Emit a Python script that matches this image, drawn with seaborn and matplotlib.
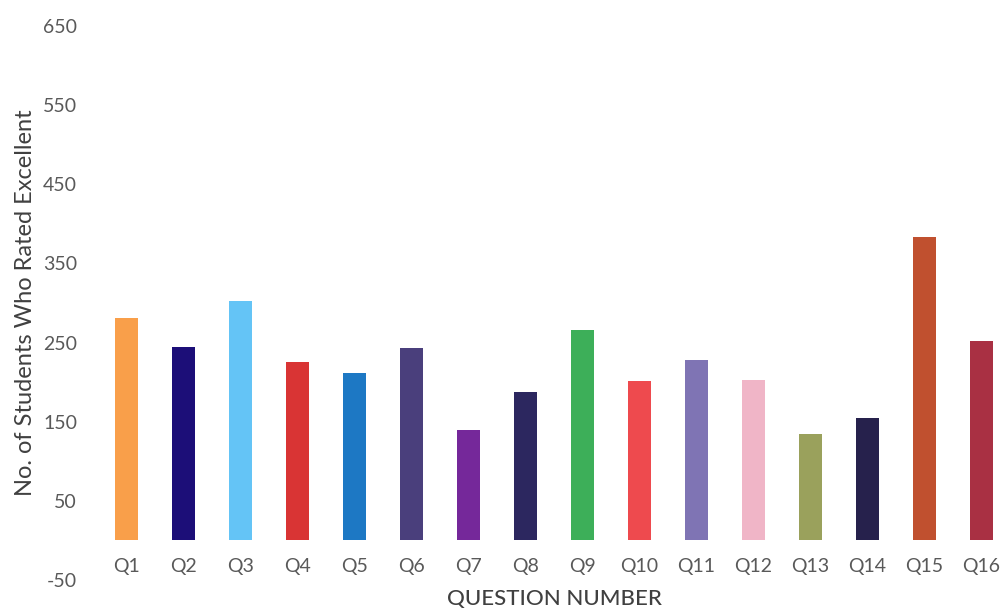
import matplotlib
matplotlib.use("Agg")
import matplotlib.pyplot as plt
import seaborn as sns
import pandas as pd

questions = ["Q1", "Q2", "Q3", "Q4", "Q5", "Q6", "Q7", "Q8",
             "Q9", "Q10", "Q11", "Q12", "Q13", "Q14", "Q15", "Q16"]
excellent = [281, 245, 303, 225, 211, 243, 140, 188,
             266, 201, 228, 203, 134, 155, 384, 252]
bar_colors = ["#F99F4A", "#1C0E78", "#64C4F6", "#D93434", "#1D78C4", "#4A3F7C",
              "#75289A", "#2C275F", "#3DAF59", "#EE4A4E", "#7F74B4", "#F0B5C7",
              "#9AA15C", "#26214C", "#C0502F", "#A93043"]
y_ticks = [-50, 50, 150, 250, 350, 450, 550, 650]

df = pd.DataFrame({"question": questions, "value": excellent})

sns.set_theme(style="white")
plt.rcParams["font.family"] = ["Lato", "DejaVu Sans"]

fig = plt.figure(figsize=(10.01, 6.12), dpi=100)
ax = fig.add_axes([98 / 1001, 1 - 580 / 612, 912 / 1001, (580 - 26) / 612])

sns.barplot(data=df, x="question", y="value", hue="question",
            palette=bar_colors, legend=False, width=0.41, ax=ax,
            saturation=1, linewidth=0)

ax.set_ylim(-50, 650)
ax.set_xlim(-0.5, 15.5)
ax.set_yticks(y_ticks)
ax.set_yticklabels([str(t) for t in y_ticks])
for s in ax.spines.values():
    s.set_visible(False)
ax.tick_params(axis="both", length=0, labelsize=14, labelcolor="#595959")
ax.tick_params(axis="x", pad=-15.5)
ax.tick_params(axis="y", pad=15)
ax.set_xlabel("QUESTION NUMBER", fontsize=16, color="#404040", fontweight="medium")
ax.set_ylabel("No. of Students Who Rated Excellent", fontsize=17,
              color="#404040")
ax.xaxis.set_label_coords(0.5, (580 - 589) / 554)
ax.yaxis.set_label_coords((36 - 98) / 912, 0.5)
ax.grid(False)

fig.savefig("out.png", dpi=100)
